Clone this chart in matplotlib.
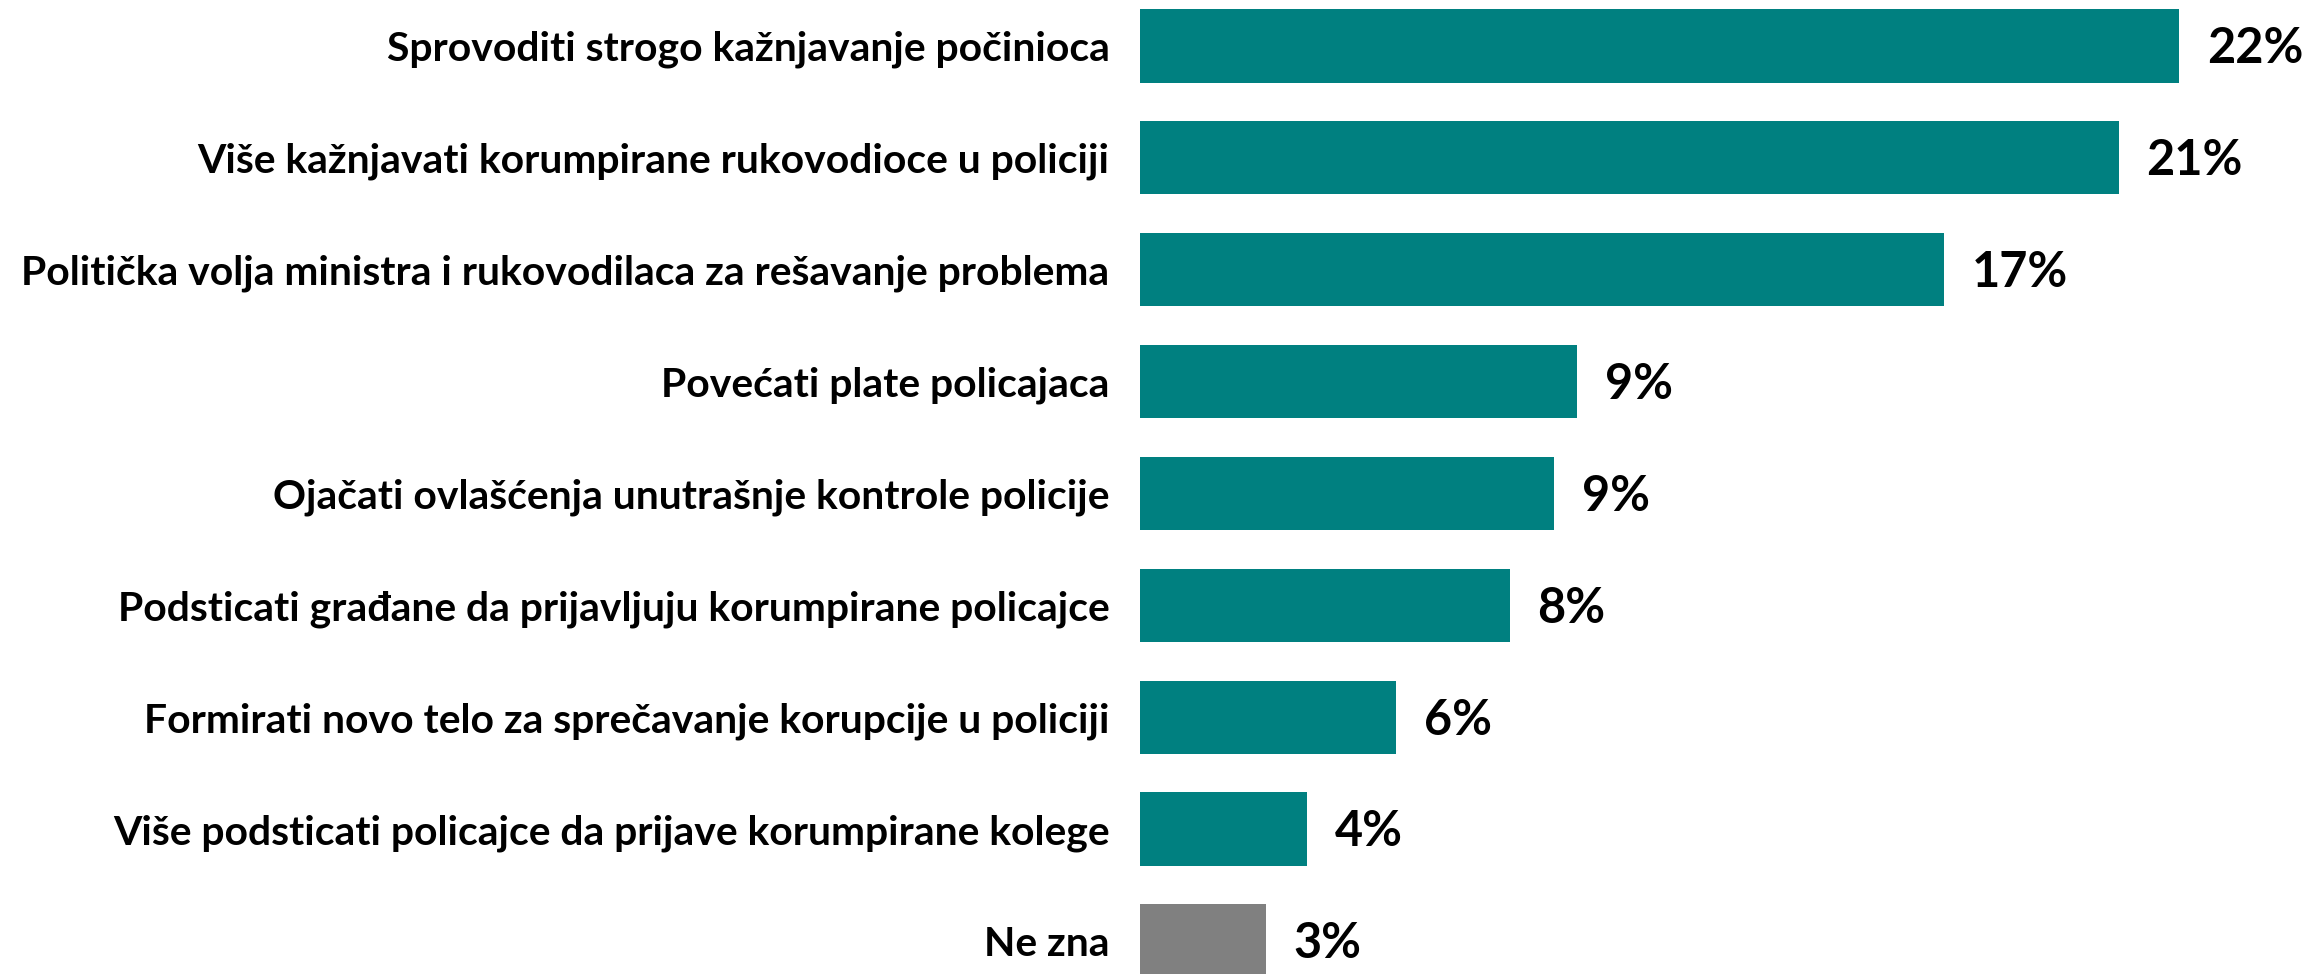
import matplotlib
matplotlib.use('Agg')
import matplotlib.pyplot as plt
from matplotlib import font_manager

# Data
categories = [
    'Sprovoditi strogo kažnjavanje počinioca',
    'Više kažnjavati korumpirane rukovodioce u policiji',
    'Politička volja ministra i rukovodilaca za rešavanje problema',
    'Povećati plate policajaca',
    'Ojačati ovlašćenja unutrašnje kontrole policije',
    'Podsticati građane da prijavljuju korumpirane policajce',
    'Formirati novo telo za sprečavanje korupcije u policiji',
    'Više podsticati policajce da prijave korumpirane kolege',
    'Ne zna',
]
values = [22.35, 21.05, 17.3, 9.4, 8.9, 7.95, 5.5, 3.6, 2.7]
labels = ['22%', '21%', '17%', '9%', '9%', '8%', '6%', '4%', '3%']
colors = ['#008080'] * 8 + ['#808080']

# pick a bold font close to Calibri
family = 'DejaVu Sans'
for f in ['Liberation Sans Narrow', 'Lato', 'Open Sans']:
    try:
        font_manager.findfont(font_manager.FontProperties(family=f, weight='bold'),
                              fallback_to_default=False)
        family = f
        break
    except Exception:
        pass
plt.rcParams['font.family'] = [family, 'DejaVu Sans']

W, H = 2312, 974
fig = plt.figure(figsize=(W / 100, H / 100), dpi=100)
left_px = 1140
ax = fig.add_axes([left_px / W, 0, (W - left_px) / W, 1])

px_per_pct = 46.5
pos = list(range(len(categories)))
ax.barh(pos, values, height=0.655, color=colors)
ax.set_xlim(0, (W - left_px) / px_per_pct)
ax.set_ylim(8.295, -0.411)

vals_txt = []
for p, v, lab in zip(pos, values, labels):
    t = ax.annotate(lab, (v, p), xytext=(20, -2), textcoords='offset points',
                    ha='left', va='center', fontsize=36, fontweight='bold')
    vals_txt.append(t)

ax.set_yticks(pos)
ax.set_yticklabels(categories, fontweight='bold')
ax.tick_params(axis='y', length=0, pad=22)
ax.set_xticks([])
for s in ax.spines.values():
    s.set_visible(False)

# fit label sizes to the widths measured on the reference
renderer = fig.canvas.get_renderer()
widest = max(t.get_window_extent(renderer).width for t in ax.get_yticklabels())
size = plt.rcParams['font.size'] * 1091 / widest
for t in ax.get_yticklabels():
    t.set_fontsize(size)
w22 = vals_txt[0].get_window_extent(renderer).width
for t in vals_txt:
    t.set_fontsize(36 * 96 / w22)

fig.savefig('out.png', dpi=100)
